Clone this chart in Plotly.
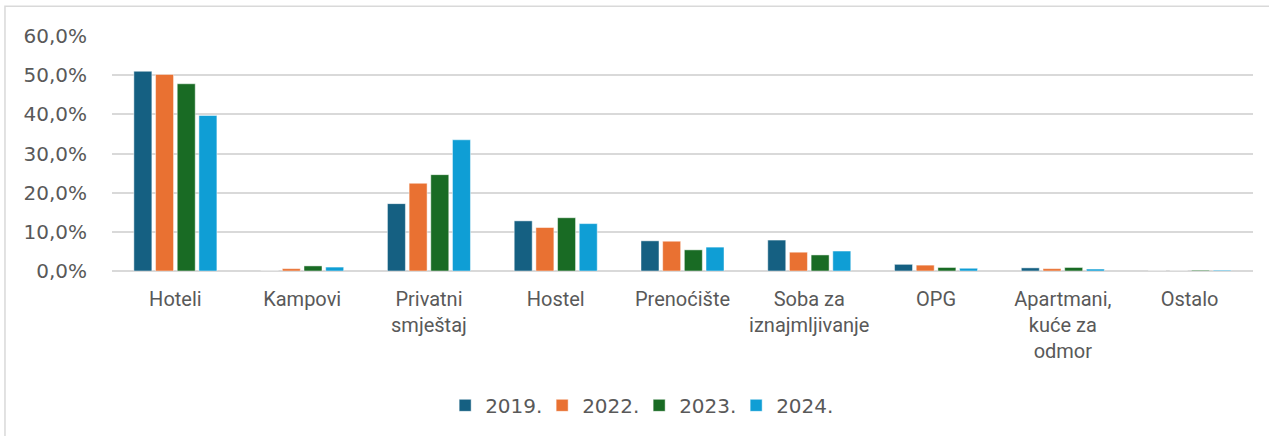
import plotly.graph_objects as go

categories = ["Hoteli", "Kampovi", "Privatni<br>smještaj", "Hostel", "Prenoćište",
              "Soba za<br>iznajmljivanje", "OPG", "Apartmani,<br>kuće za<br>odmor", "Ostalo"]
series_names = ["2019.", "2022.", "2023.", "2024."]
v2019 = [51.0, 0.0, 17.2, 12.8, 7.7, 7.9, 1.7, 0.8, 0.0]
v2022 = [50.2, 0.6, 22.4, 11.1, 7.6, 4.8, 1.5, 0.6, 0.0]
v2023 = [47.8, 1.3, 24.6, 13.6, 5.4, 4.1, 0.9, 0.9, 0.2]
v2024 = [39.7, 1.0, 33.5, 12.1, 6.1, 5.1, 0.7, 0.5, 0.2]
colors = ["#156082", "#E97132", "#196B24", "#0F9ED5"]
y_ticks = [0, 10, 20, 30, 40, 50, 60]
y_tick_labels = ["0,0%", "10,0%", "20,0%", "30,0%", "40,0%", "50,0%", "60,0%"]

label_font = "Roboto, Liberation Sans, sans-serif"
num_font = "DejaVu Sans, sans-serif"

fig = go.Figure()
for name, vals, col in zip(series_names, [v2019, v2022, v2023, v2024], colors):
    fig.add_trace(go.Bar(
        x=categories, y=vals, name=name,
        marker=dict(color=col, line=dict(color="rgba(255,255,255,0.6)", width=0.8)),
    ))

fig.update_layout(
    width=1269, height=436,
    margin=dict(l=112, r=16, t=36, b=164),
    paper_bgcolor="white", plot_bgcolor="white",
    barmode="group", bargap=0.316, bargroupgap=0.17,
    font=dict(family=label_font, size=20, color="#595959"),
    showlegend=True,
    legend=dict(orientation="h", x=0.462, xanchor="center", y=-0.565, yanchor="middle",
                font=dict(family=num_font, size=20, color="#595959"), itemwidth=30,
                entrywidth=52, entrywidthmode="pixels", traceorder="normal"),
    shapes=[dict(type="rect", xref="paper", yref="paper",
                 x0=-0.0938, x1=1.02, y0=-0.75, y1=1.127,
                 line=dict(color="#D9D9D9", width=1.5), fillcolor="rgba(0,0,0,0)", layer="below")],
)
fig.update_xaxes(showgrid=False, showline=False, ticks="",
                 tickfont=dict(family=label_font, size=20, color="#595959"),
                 ticklabelstandoff=14)
fig.update_yaxes(range=[0, 60], tickvals=y_ticks, ticktext=y_tick_labels,
                 showgrid=True, gridcolor="#D9D9D9", gridwidth=1.5,
                 zeroline=True, zerolinecolor="#D9D9D9", zerolinewidth=1.5,
                 tickfont=dict(family=num_font, size=20, color="#595959"), ticklabelstandoff=24)

fig.write_html("out.html", config={"displayModeBar": False},
               post_script="document.body.style.margin='0';document.body.style.overflow='hidden';")
